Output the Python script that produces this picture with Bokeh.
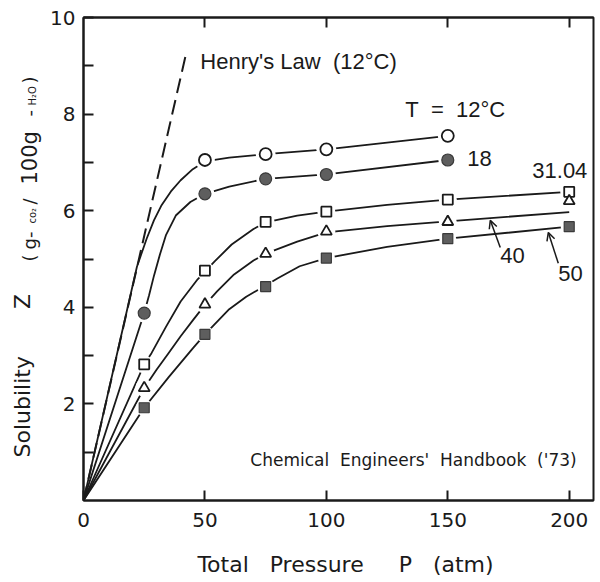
from math import pi
from bokeh.plotting import figure
from bokeh.layouts import row
from bokeh.models import Label, Arrow, OpenHead, FixedTicker, LinearAxis, Range1d
from bokeh.embed import file_html
from bokeh.resources import INLINE

# ---- measured points (P in atm, Z in g-CO2/100 g-H2O) ----
P_12 = [50, 75, 100, 150]
Z_12 = [7.05, 7.17, 7.27, 7.55]
P_18 = [25, 50, 75, 100, 150]
Z_18 = [3.88, 6.35, 6.66, 6.75, 7.05]
P_31 = [25, 50, 75, 100, 150, 200]
Z_31 = [2.82, 4.76, 5.77, 5.98, 6.23, 6.39]
P_40 = [25, 50, 75, 100, 150, 200]
Z_40 = [2.33, 4.06, 5.11, 5.57, 5.77, 6.20]
P_50 = [25, 50, 75, 100, 150, 200]
Z_50 = [1.92, 3.44, 4.43, 5.02, 5.42, 5.67]

# ---- hand-drawn smooth curves ----
CP_12 = [0, 22, 26, 29, 32, 36, 40, 45, 50, 60, 75, 100, 150]
CZ_12 = [0, 4.84, 5.42, 5.80, 6.10, 6.40, 6.63, 6.86, 7.02, 7.10, 7.17, 7.27, 7.55]
CP_18 = [0, 25, 27, 29, 31.5, 34, 38, 44, 50, 60, 75, 100, 150]
CZ_18 = [0, 3.88, 4.25, 4.65, 5.10, 5.50, 5.90, 6.18, 6.35, 6.50, 6.66, 6.75, 7.05]
CP_31 = [0, 25, 28, 34, 40, 47, 50, 54, 61, 70, 75, 88, 100, 125, 150, 200]
CZ_31 = [0, 2.82, 3.05, 3.60, 4.12, 4.58, 4.74, 4.95, 5.30, 5.62, 5.76, 5.90, 5.98, 6.12, 6.23, 6.39]
CP_40 = [0, 25, 30, 35, 40, 45, 50, 55, 62, 70, 75, 88, 100, 125, 150, 200]
CZ_40 = [0, 2.33, 2.70, 3.05, 3.40, 3.73, 4.05, 4.33, 4.68, 4.97, 5.11, 5.36, 5.55, 5.68, 5.78, 5.97]
CP_50 = [0, 25, 35, 45, 50, 60, 67, 75, 80, 89, 100, 125, 150, 200]
CZ_50 = [0, 1.92, 2.55, 3.15, 3.44, 3.96, 4.22, 4.45, 4.60, 4.85, 5.02, 5.25, 5.42, 5.67]

HENRY_P = [0, 42]
HENRY_Z = [0, 9.2]

X_TICKS = [0, 50, 100, 150, 200]
TOP_TICKS = [50, 100, 150, 200]
Y_TICKS = [2, 4, 6, 8, 10]
Y_MINOR = [1, 3, 5, 7, 9]

NB = "\u00a0"
FONT = "DejaVu Sans"
FONT2 = "Liberation Sans"
INK = "#1a1a1a"
GREY = "#5e5e5e"

STRIP_W = 46

# ---------------- main chart ----------------
p = figure(width=600 - STRIP_W, height=582, x_range=Range1d(0, 210), y_range=Range1d(0, 10),
           output_backend="svg", toolbar_location=None,
           min_border_left=83 - STRIP_W, min_border_right=7, min_border_top=17, min_border_bottom=82)
p.grid.visible = False
p.outline_line_color = INK
p.outline_line_width = 2
p.outline_line_alpha = 1

xa = p.xaxis[0]
xa.ticker = FixedTicker(ticks=X_TICKS)
ya = p.yaxis[0]
ya.ticker = FixedTicker(ticks=Y_TICKS, minor_ticks=Y_MINOR)
for ax in (xa, ya):
    ax.axis_line_width = 2
    ax.axis_line_color = INK
    ax.major_tick_in = 10
    ax.major_tick_out = 0
    ax.minor_tick_in = 10
    ax.minor_tick_out = 0
    ax.major_tick_line_width = 2
    ax.minor_tick_line_width = 2
    ax.major_tick_line_color = INK
    ax.minor_tick_line_color = INK
    ax.major_label_text_font = FONT
    ax.major_label_text_font_size = "20px"
    ax.major_label_text_color = INK
ya.major_label_standoff = 8
xa.major_label_standoff = 12
xa.axis_label = NB * 2 + "Total" + NB * 3 + "Pressure" + NB * 5 + "P" + NB * 3 + "(atm)"
xa.axis_label_text_font = FONT
xa.axis_label_text_font_size = "22px"
xa.axis_label_text_font_style = "normal"
xa.axis_label_text_color = INK
xa.axis_label_standoff = 22

top = LinearAxis(ticker=FixedTicker(ticks=TOP_TICKS),
                 major_tick_in=10, major_tick_out=0, minor_tick_in=0, minor_tick_out=0,
                 major_tick_line_width=2, major_tick_line_color=INK,
                 axis_line_width=2, axis_line_color=INK,
                 major_label_overrides={t: "" for t in TOP_TICKS}, major_label_standoff=0)
p.add_layout(top, "above")

# curves
p.line(HENRY_P, HENRY_Z, line_color=INK, line_width=2, line_dash="15 7")
for cx, cz in ((CP_12, CZ_12), (CP_18, CZ_18), (CP_31, CZ_31), (CP_40, CZ_40), (CP_50, CZ_50)):
    p.line(cx, cz, line_color=INK, line_width=1.8)

# white halos so the curves stop short of the markers
for px_, pz_, s in ((P_12, Z_12, 20), (P_18, Z_18, 19), (P_31, Z_31, 18), (P_40, Z_40, 18), (P_50, Z_50, 17)):
    p.scatter(px_, pz_, marker="circle", size=s, fill_color="white", line_color=None)

# markers
p.scatter(P_12, Z_12, marker="circle", size=12, fill_color="white", line_color=INK, line_width=1.8)
p.scatter(P_18, Z_18, marker="circle", size=12, fill_color=GREY, line_color="#3a3a3a", line_width=1.2)
p.scatter(P_31, Z_31, marker="square", size=10, fill_color="white", line_color=INK, line_width=1.8)
p.scatter(P_40, Z_40, marker="triangle", size=11, fill_color="white", line_color=INK, line_width=1.8)
p.scatter(P_50, Z_50, marker="square", size=10, fill_color=GREY, line_color="#3a3a3a", line_width=1.2)


def lab(fig, x, y, t, size, font=FONT2, align="left", base="middle", angle=0.0):
    fig.add_layout(Label(x=x, y=y, text=t, text_font=font, text_font_size=size,
                         text_color=INK, text_align=align, text_baseline=base, angle=angle))


lab(p, 48.1, 9.08, "Henry's" + NB + "Law" + NB * 2 + "(12°C)", "22px")
lab(p, 132.5, 8.10, "T" + NB * 2 + "=" + NB * 2 + "12°C", "22px")
lab(p, 158.0, 7.08, "18", "22px")
lab(p, 184.8, 6.83, "31.04", "22px")
lab(p, 171.6, 5.07, "40", "22px")
lab(p, 195.5, 4.70, "50", "22px")
lab(p, 68.7, 0.83, "Chemical" + NB * 2 + "Engineers'" + NB * 2 + "Handbook" + NB * 2 + "('73)", "17px", font=FONT)

p.add_layout(Arrow(end=OpenHead(size=8, line_width=1.5, line_color=INK),
                   x_start=171.6, y_start=5.24, x_end=167.5, y_end=5.80,
                   line_width=1.5, line_color=INK))
p.add_layout(Arrow(end=OpenHead(size=8, line_width=1.5, line_color=INK),
                   x_start=195.5, y_start=4.91, x_end=191.4, y_end=5.55,
                   line_width=1.5, line_color=INK))

# ---------------- y-axis title strip (page pixels; y counted up from the page bottom) ----------------
t = figure(width=STRIP_W, height=582, x_range=Range1d(0, STRIP_W), y_range=Range1d(82, 565),
           x_axis_type=None, y_axis_type=None, output_backend="svg", toolbar_location=None,
           min_border_left=0, min_border_right=0, min_border_top=17, min_border_bottom=82)
t.grid.visible = False
t.outline_line_color = None

A = pi / 2
lab(t, 22, 125, "Solubility", "22px", font=FONT, angle=A)
lab(t, 22, 281, "Z", "22px", font=FONT, align="center", angle=A)
XU = 29
XS = 32
lab(t, XU, 321, "(", "18px", font=FONT, angle=A)
lab(t, XU, 333, "g-", "18px", font=FONT, angle=A)
lab(t, XS, 359, "co₂", "10px", font=FONT, angle=A)
lab(t, XU, 378, "/", "18px", font=FONT, angle=A)
lab(t, XU, 398, "100g", "21px", font=FONT, angle=A)
lab(t, XU, 466, "-", "18px", font=FONT, angle=A)
lab(t, XS, 477, "H₂O", "10px", font=FONT, angle=A)
lab(t, XU, 499, ")", "18px", font=FONT, angle=A)

layout = row(t, p, spacing=0)
open("out.html", "w").write(file_html(layout, INLINE))
